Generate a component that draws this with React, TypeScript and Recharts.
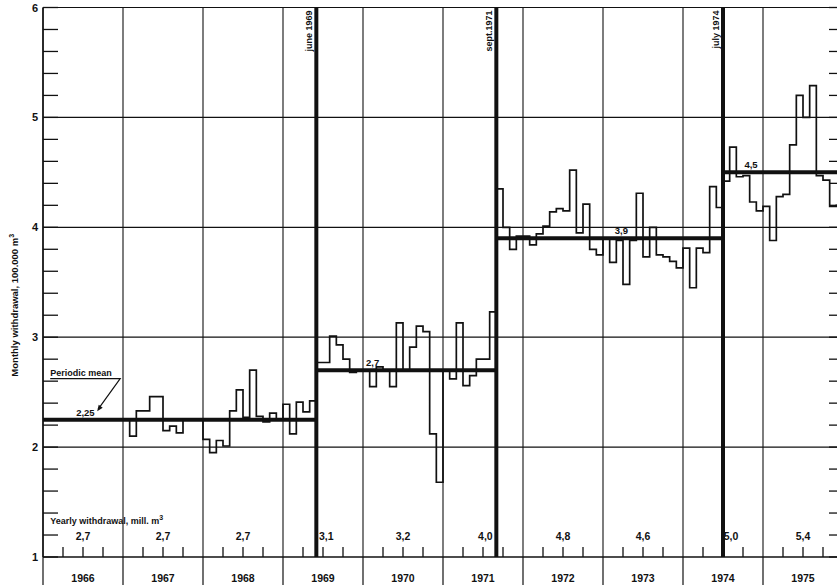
import React from "react";
import {
  ComposedChart,
  Line,
  XAxis,
  YAxis,
  ReferenceLine,
  ReferenceDot,
} from "recharts";

const years = [1966, 1967, 1968, 1969, 1970, 1971, 1972, 1973, 1974, 1975];

// monthly withdrawal, 100.000 m3, Jan..Dec
const m1967 = [2.25, 2.1, 2.33, 2.33, 2.46, 2.46, 2.15, 2.19, 2.13, 2.25, 2.25, 2.25];
const m1968 = [2.07, 1.95, 2.06, 2.01, 2.33, 2.52, 2.27, 2.7, 2.28, 2.23, 2.31, 2.25];
const m1969 = [2.39, 2.12, 2.41, 2.32, 2.42, 2.77, 2.77, 3.01, 2.93, 2.8, 2.68, 2.7];
const m1970 = [2.7, 2.55, 2.73, 2.7, 2.55, 3.13, 2.7, 2.91, 3.1, 3.05, 2.12, 1.68];
const m1971 = [2.7, 2.62, 3.13, 2.56, 2.65, 2.8, 2.8, 3.23, 4.35, 4.0, 3.8, 3.92];
const m1972 = [3.92, 3.84, 3.94, 4.01, 4.14, 4.17, 4.15, 4.52, 3.95, 4.21, 3.8, 3.75];
const m1973 = [3.9, 3.68, 3.88, 3.48, 3.88, 4.31, 3.73, 4.0, 3.75, 3.73, 3.69, 3.63];
const m1974 = [3.81, 3.45, 3.81, 3.77, 4.37, 4.18, 4.42, 4.73, 4.46, 4.47, 4.23, 4.15];
const m1975 = [4.19, 3.88, 4.28, 4.3, 4.75, 5.2, 5.0, 5.29, 4.47, 4.43, 4.19, 4.2];

const yearlyWithdrawal = ["2,7", "2,7", "2,7", "3,1", "3,2", "4,0", "4,8", "4,6", "5,0", "5,4"];

// periods between changes (start as year fraction) and their means
const periodStart = [1966, 1969 + 5 / 12, 1971 + 8 / 12, 1974 + 6 / 12];
const periodEnd = [1969 + 5 / 12, 1971 + 8 / 12, 1974 + 6 / 12, 1976];
const periodMean = [2.25, 2.7, 3.9, 4.5];
const periodMeanLabel = ["2,25", "2,7", "3,9", "4,5"];
const breakLabels = ["june 1969", "sept.1971", "july 1974"];

const yTicks = [1, 2, 3, 4, 5, 6];

const monthly: [number, number[]][] = [
  [1967, m1967], [1968, m1968], [1969, m1969], [1970, m1970], [1971, m1971],
  [1972, m1972], [1973, m1973], [1974, m1974], [1975, m1975],
];
const data: { t: number; v: number }[] = [];
monthly.forEach(([yr, vals]) => vals.forEach((v, i) => data.push({ t: yr + i / 12, v })));
data.push({ t: 1976, v: m1975[11] });

// layout bits
const quarterTicks = Array.from({ length: 41 }, (_, i) => 1966 + i / 4);
const innerQuarters = quarterTicks.filter((q) => q % 1 !== 0);
const yearLines = [...years, 1976];
const yMinorTicks = Array.from({ length: 26 }, (_, i) => Math.round((1 + i / 5) * 10) / 10);
const meanLabelAt = [1966.53, 1970.12, 1973.23, 1974.85];
const withdrawalAt = [1966.5, 1967.5, 1968.5, 1969.54, 1970.5, 1971.53, 1972.5, 1973.5, 1974.6, 1975.5];

const FONT = "'Liberation Sans', Arial, sans-serif";
const INK = "#111";
const txt = { fontFamily: FONT, fontWeight: 700, fill: INK } as const;
const axisLineStyle = { stroke: INK, strokeWidth: 1.5 };

// left axis tick: short inward line plus number on whole values
const LeftTick = (p: any) => {
  const v = p.payload.value;
  const whole = Math.abs(v - Math.round(v)) < 1e-6;
  return (
    <g>
      <line x1={p.x} x2={p.x + 15} y1={p.y} y2={p.y} stroke={INK} strokeWidth={1.3} />
      {whole && (
        <text x={p.x - 5} y={p.y + 4} textAnchor="end" fontSize={11} {...txt}>
          {Math.round(v)}
        </text>
      )}
    </g>
  );
};
// bottom axis: year separators run down through the label row, year name under mid-year
const BottomTick = (p: any) => {
  const v = p.payload.value;
  const frac = v - Math.floor(v);
  if (frac < 1e-6) {
    return <line x1={p.x} x2={p.x} y1={p.y} y2={p.y + 28} stroke={INK} strokeWidth={1.2} />;
  }
  if (Math.abs(frac - 0.5) < 1e-6) {
    return (
      <text x={p.x} y={p.y + 25} textAnchor="middle" fontSize={10.5} {...txt}>
        {Math.floor(v)}
      </text>
    );
  }
  return <g />;
};
const YTitle = (p: any) => (
  <text
    transform={`translate(${p.viewBox.x + 18}, ${p.viewBox.y + p.viewBox.height / 2 + 23}) rotate(-90)`}
    textAnchor="middle" fontSize={9.5} {...txt}
  >
    Monthly withdrawal, 100.000 m<tspan dy={-4} fontSize={7}>3</tspan>
  </text>
);
const leftTickEl = <LeftTick />;
const bottomTickEl = <BottomTick />;
const yTitleEl = <YTitle />;

const BreakLabel = (props: any) => {
  const { viewBox, text } = props;
  return (
    <text
      transform={`translate(${viewBox.x - 4}, ${viewBox.y + 3}) rotate(-90)`}
      textAnchor="end"
      fontSize={9}
      {...txt}
    >
      {text}
    </text>
  );
};

export default function App() {
  return (
    <div style={{ position: "fixed", left: 0, top: 0, width: 837, height: 585, overflow: "hidden", background: "#fff" }}>
      <ComposedChart width={860} height={585} data={data} margin={{ top: 7.5, right: 17, bottom: 0, left: 0 }}>
        <XAxis
          xAxisId="x" type="number" dataKey="t" domain={[1966, 1976]} allowDataOverflow
          ticks={quarterTicks} interval={0} height={28} tickSize={0} tickMargin={0}
          tick={bottomTickEl} tickLine={false} axisLine={axisLineStyle}
        />
        <YAxis
          yAxisId="y" type="number" domain={[1, 6]} ticks={yMinorTicks} interval={0} width={43}
          tickSize={0} tickMargin={0} tickLine={false}
          axisLine={axisLineStyle}
          tick={leftTickEl}
          label={yTitleEl}
        />

        {yearLines.map((yr) => (
          <ReferenceLine key={`v-${yr}`} xAxisId="x" yAxisId="y" x={yr} stroke={INK} strokeWidth={1.1} />
        ))}
        {yTicks.slice(1).map((v) => (
          <ReferenceLine key={`h-${v}`} xAxisId="x" yAxisId="y" y={v} stroke={INK} strokeWidth={1.2} />
        ))}
        {/* quarter ticks standing on the time axis */}
        {innerQuarters.map((q) => (
          <ReferenceLine
            key={`q-${q}`} xAxisId="x" yAxisId="y"
            segment={[{ x: q, y: 1 }, { x: q, y: 1.09 }]}
            stroke={INK} strokeWidth={1.3}
          />
        ))}
        {/* inward ticks on the right-hand frame */}
        {yMinorTicks.map((v) => (
          <ReferenceLine
            key={`r-${v}`} xAxisId="x" yAxisId="y"
            segment={[{ x: 1975.825, y: v }, { x: 1976, y: v }]}
            stroke={INK} strokeWidth={1.3}
          />
        ))}

        {periodMean.map((m, i) => (
          <ReferenceLine
            key={`mean-${i}`} xAxisId="x" yAxisId="y"
            segment={[{ x: periodStart[i], y: m }, { x: periodEnd[i], y: m }]}
            stroke={INK} strokeWidth={4}
          />
        ))}
        {breakLabels.map((b, i) => (
          <ReferenceLine
            key={`brk-${i}`} xAxisId="x" yAxisId="y" x={periodStart[i + 1]}
            stroke={INK} strokeWidth={4}
            label={(p: any) => <BreakLabel {...p} text={b} />}
          />
        ))}

        <Line
          xAxisId="x" yAxisId="y" type="stepAfter" dataKey="v" stroke={INK} strokeWidth={1.7}
          dot={false} activeDot={false} isAnimationActive={false}
        />

        {periodMeanLabel.map((s, i) => (
          <ReferenceDot
            key={`ml-${i}`} xAxisId="x" yAxisId="y" x={meanLabelAt[i]} y={periodMean[i]} r={0}
            shape={(p: any) => (
              <text x={p.cx} y={p.cy - 4} textAnchor="middle" fontSize={9.5} {...txt}>{s}</text>
            )}
          />
        ))}
        {yearlyWithdrawal.map((s, i) => (
          <ReferenceDot
            key={`yw-${i}`} xAxisId="x" yAxisId="y" x={withdrawalAt[i]} y={1.155} r={0}
            shape={(p: any) => (
              <text x={p.cx} y={p.cy} textAnchor="middle" fontSize={10.5} {...txt}>{s}</text>
            )}
          />
        ))}
        <ReferenceDot
          xAxisId="x" yAxisId="y" x={1966.09} y={1.3} r={0}
          shape={(p: any) => (
            <text x={p.cx} y={p.cy} fontSize={9} {...txt}>
              Yearly withdrawal, mill. m<tspan dy={-4} fontSize={7}>3</tspan>
            </text>
          )}
        />
        <ReferenceDot
          xAxisId="x" yAxisId="y" x={1966.09} y={2.645} r={0}
          shape={(p: any) => (
            <g>
              <text x={p.cx} y={p.cy} fontSize={9} {...txt}>Periodic mean</text>
              <polyline
                points={`${p.cx},${p.cy + 2.5} ${p.cx + 70},${p.cy + 2.5} ${p.cx + 48},${p.cy + 33}`}
                fill="none" stroke={INK} strokeWidth={1.2}
              />
              <polygon
                points={`${p.cx + 47},${p.cy + 35} ${p.cx + 52.5},${p.cy + 31.5} ${p.cx + 48.5},${p.cy + 28.6}`}
                fill={INK}
              />
            </g>
          )}
        />
      </ComposedChart>
    </div>
  );
}
